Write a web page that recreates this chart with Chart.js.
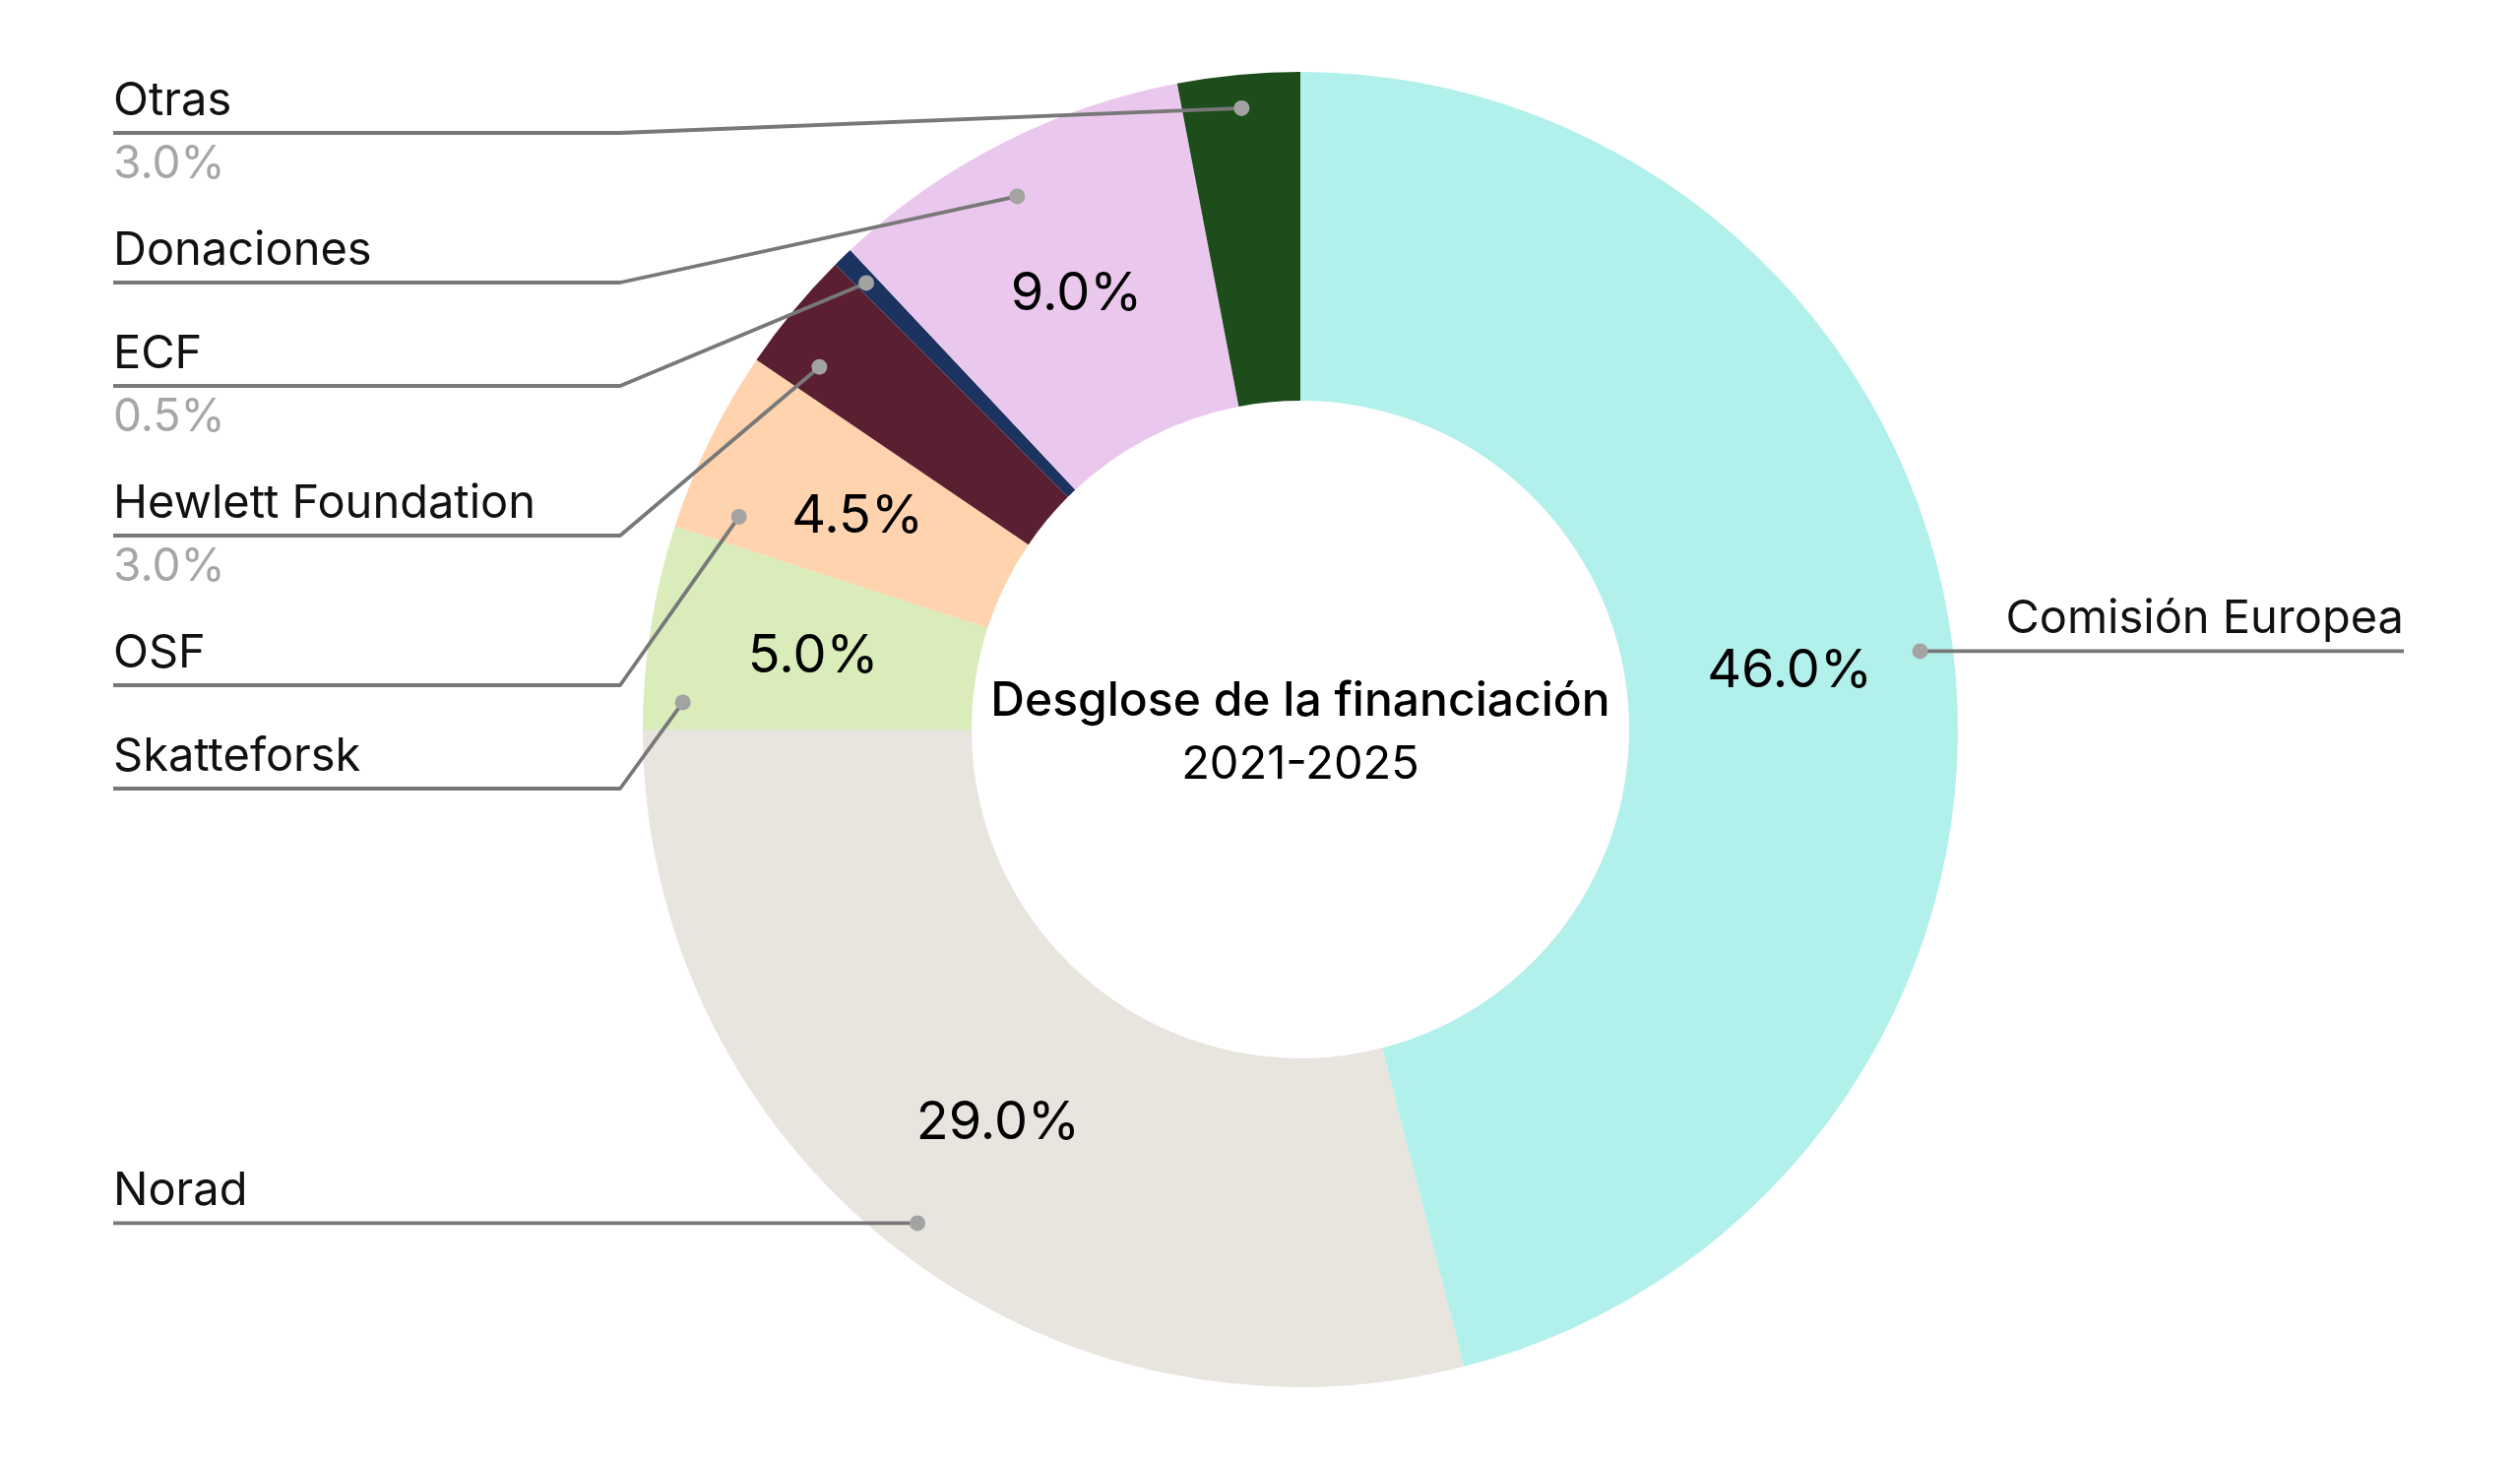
<!DOCTYPE html>
<html lang="es">
<head>
<meta charset="utf-8">
<title>Desglose de la financiación 2021-2025</title>
<script src="https://cdn.jsdelivr.net/npm/chart.js@4.4.1/dist/chart.umd.min.js"></script>
<style>
  html, body { margin: 0; padding: 0; background: #ffffff; }
  #wrap { width: 2560px; height: 1484px; position: relative; }
</style>
</head>
<body>
<div id="wrap"><canvas id="fundingChart"></canvas></div>
<script>
// datos (porcentaje de la financiación)
const categories = ['Comisión Europea', 'Norad', 'Skatteforsk', 'OSF', 'Hewlett Foundation', 'ECF', 'Donaciones', 'Otras'];
const shares = [46.0, 29.0, 5.0, 4.5, 3.0, 0.5, 9.0, 3.0];
const sliceColors = ['#b2f0eb', '#e8e4de', '#d9ecb9', '#fed3ae', '#5a1f31', '#1b335e', '#eac8ed', '#1c4d1a'];
const centerTitle = 'Desglose de la financiación';
const centerSubtitle = '2021-2025';

// where the leader dot sits inside each slice (fraction along the arc / of the outer radius)
const anchorAlong = [0.5, 0.5, 0.14, 0.17, 0.26, 0.45, 0.47, 0.5];
const anchorRadius = [0.95, 0.95, 0.94, 0.913, 0.916, 0.947, 0.918, 0.949];

const insideMin = 4;      // slices >= this show the value inside the ring
const labelX = 115;       // left column of names
const elbowX = 630;       // where the leader line bends
const rightEnd = 2442;    // end of right-hand leader lines
const labelTop = 135;
const rowGap = 105;
const rowGapWithPct = 152;
const font = 'Inter, "Noto Sans", sans-serif';

const leaderLabels = {
    id: 'leaderLabels',
    afterDatasetsDraw(chart) {
        const ctx = chart.ctx;
        const arcs = chart.getDatasetMeta(0).data;
        const total = shares.reduce((a, b) => a + b, 0);
        const left = [], right = [];
        let cx = 0, cy = 0;

        ctx.save();
        arcs.forEach((arc, i) => {
            const p = arc.getProps(['x', 'y', 'startAngle', 'endAngle', 'outerRadius'], true);
            cx = p.x; cy = p.y;
            const a = p.startAngle + (p.endAngle - p.startAngle) * anchorAlong[i];
            const r = p.outerRadius * anchorRadius[i];
            const dot = { x: p.x + Math.cos(a) * r, y: p.y + Math.sin(a) * r };
            const pct = shares[i] / total * 100;
            const item = { i: i, dot: dot, pct: pct, inside: pct >= insideMin };
            (dot.x > p.x ? right : left).push(item);

            // value inside the ring
            if (item.inside) {
                const c = arc.tooltipPosition(true);
                ctx.font = '400 54px ' + font;
                ctx.fillStyle = '#000000';
                ctx.textAlign = 'center';
                ctx.textBaseline = 'alphabetic';
                ctx.fillText(pct.toFixed(1) + '%', c.x, c.y + 20);
            }
        });

        // spread the left labels so they don't overlap
        left.sort((a, b) => a.dot.y - b.dot.y);
        let prevY = -Infinity, prevH = 0;
        left.forEach(it => {
            it.lineY = Math.max(it.dot.y, labelTop, prevY + prevH);
            prevY = it.lineY;
            prevH = it.inside ? rowGap : rowGapWithPct;
        });
        right.forEach(it => { it.lineY = it.dot.y; });

        ctx.strokeStyle = '#787878';
        ctx.lineWidth = 3.8;
        ctx.lineJoin = 'round';
        left.forEach(it => {
            ctx.beginPath();
            ctx.moveTo(labelX, it.lineY);
            ctx.lineTo(elbowX, it.lineY);
            ctx.lineTo(it.dot.x, it.dot.y);
            ctx.stroke();
        });
        right.forEach(it => {
            ctx.beginPath();
            ctx.moveTo(it.dot.x, it.dot.y);
            ctx.lineTo(rightEnd, it.lineY);
            ctx.stroke();
        });

        // dots
        ctx.fillStyle = '#a3a3a3';
        left.concat(right).forEach(it => {
            ctx.beginPath();
            ctx.arc(it.dot.x, it.dot.y, 8, 0, Math.PI * 2);
            ctx.fill();
        });

        // names (+ small grey value when not shown inside)
        ctx.textBaseline = 'alphabetic';
        left.concat(right).forEach(it => {
            const isRight = right.includes(it);
            ctx.textAlign = isRight ? 'right' : 'left';
            const x = isRight ? rightEnd : labelX;
            ctx.font = '400 47px ' + font;
            ctx.fillStyle = '#111111';
            ctx.fillText(categories[it.i], x, it.lineY - 18);
            if (!it.inside) {
                ctx.font = '400 46px ' + font;
                ctx.fillStyle = '#a6a6a6';
                ctx.fillText(it.pct.toFixed(1) + '%', x, it.lineY + 46);
            }
        });

        // centre title
        ctx.textAlign = 'center';
        ctx.fillStyle = '#000000';
        ctx.font = '500 48px ' + font;
        ctx.fillText(centerTitle, cx, cy - 14);
        ctx.font = '400 47px ' + font;
        ctx.fillText(centerSubtitle, cx, cy + 50);
        ctx.restore();
    }
};

const ctx = document.getElementById('fundingChart').getContext('2d');

const fundingChart = new Chart(ctx, {
    type: 'doughnut',
    data: {
        labels: categories,
        datasets: [{
            data: shares,
            backgroundColor: sliceColors,
            borderWidth: 0,
            hoverOffset: 0
        }]
    },
    options: {
        responsive: true,
        maintainAspectRatio: false,
        animation: false,
        cutout: '50%',
        layout: {
            padding: { left: 653, right: 571, top: 73, bottom: 75 }
        },
        plugins: {
            legend: { display: false },
            tooltip: { enabled: false }
        },
        events: []
    },
    plugins: [leaderLabels]
});
</script>
</body>
</html>
